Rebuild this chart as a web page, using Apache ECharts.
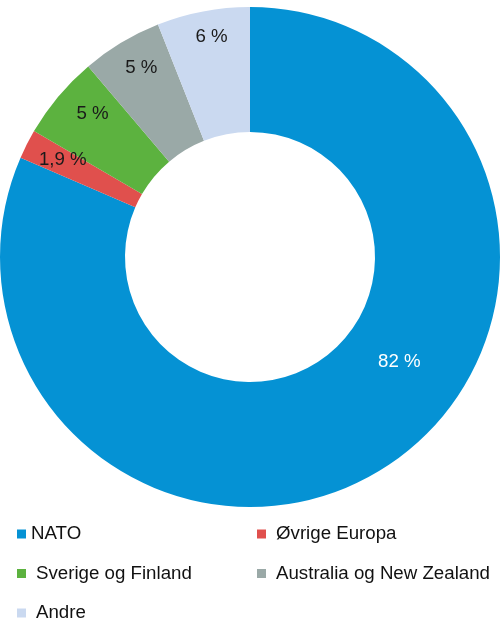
<!DOCTYPE html>
<html>
<head>
<meta charset="utf-8">
<script src="https://cdn.jsdelivr.net/npm/echarts@6/dist/echarts.min.js"></script>
<style>
html,body{margin:0;padding:0;background:#fff;}
#chart{width:500px;height:630px;}
</style>
</head>
<body>
<div id="chart"></div>
<script>
const categories = ['NATO', 'Øvrige Europa', 'Sverige og Finland', 'Australia og New Zealand', 'Andre'];
const values = [81.5, 1.9, 5.4, 5.2, 6.0];
const valueLabels = ['82 %', '1,9 %', '5 %', '5 %', '6 %'];

const colors = ['#0592d4', '#e0504d', '#5cb23f', '#9aa9a7', '#cad9f0'];
const labelColors = ['#ffffff', '#1a1a1a', '#1a1a1a', '#1a1a1a', '#1a1a1a'];
const labelOffsets = [[28, -80], [10, 3], [12, -1], [5, 0], [3, -3]];
const FONT = '"Liberation Sans", Arial, sans-serif';

const chart = echarts.init(document.getElementById('chart'), null, {renderer: 'canvas'});

const ringData = categories.map((c, i) => ({
  name: c, value: values[i], itemStyle: {color: colors[i]}
}));
const labelData = categories.map((c, i) => ({
  name: c, value: values[i],
  label: {formatter: valueLabels[i], color: labelColors[i], offset: labelOffsets[i]}
}));

const textPad = (name) => name === 'NATO' ? [0, 0, 0, 0] : [0, 0, 0, 5];
const legendCommon = {
  orient: 'vertical', icon: 'rect', itemWidth: 9, itemHeight: 9,
  itemGap: 19.5, selectedMode: false, padding: 0, height: 110,
  textStyle: {fontFamily: FONT, fontSize: 18.7, color: '#111111', lineHeight: 20}
};

chart.setOption({
  animation: false,
  backgroundColor: '#ffffff',
  legend: [
    Object.assign({}, legendCommon, {
      left: 17, top: 524,
      data: [categories[0], categories[2], categories[4]].map(n => ({name: n, textStyle: {padding: textPad(n)}}))
    }),
    Object.assign({}, legendCommon, {
      left: 257, top: 524,
      data: [categories[1], categories[3]].map(n => ({name: n, textStyle: {padding: textPad(n)}}))
    })
  ],
  series: [
    {
      type: 'pie', center: [250, 257], radius: [125, 250],
      startAngle: 90, clockwise: true, silent: true,
      label: {show: false}, labelLine: {show: false},
      itemStyle: {borderWidth: 0},
      emphasis: {disabled: true},
      data: ringData
    },
    {
      type: 'pie', center: [250, 257], radius: [186, 250],
      startAngle: 90, clockwise: true, silent: true,
      itemStyle: {color: 'rgba(0,0,0,0)', borderWidth: 0},
      label: {show: true, position: 'inside', fontFamily: FONT, fontSize: 18.7},
      labelLine: {show: false},
      emphasis: {disabled: true},
      data: labelData
    }
  ]
});
</script>
</body>
</html>
